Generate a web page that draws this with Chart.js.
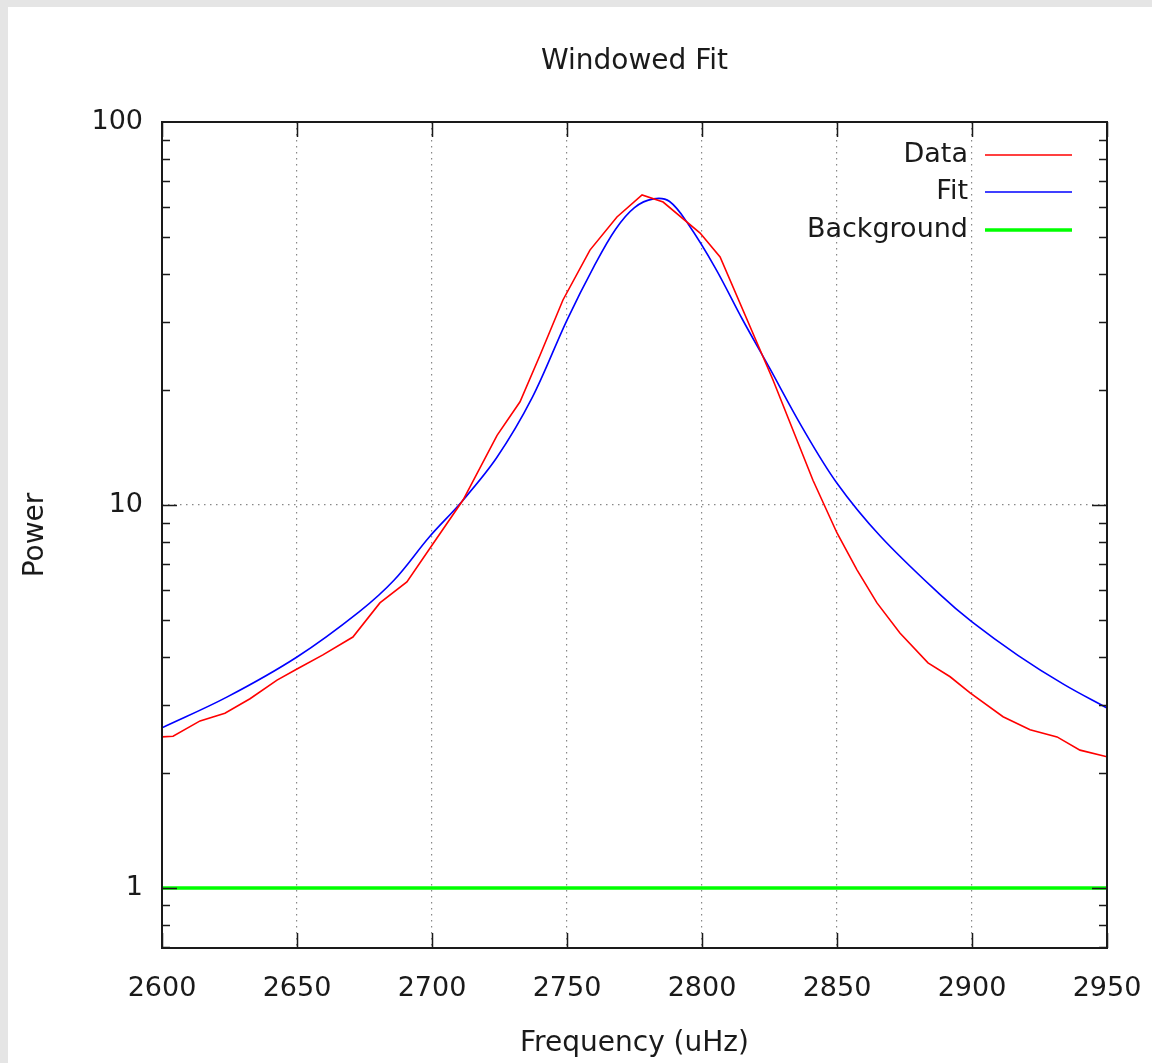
<!DOCTYPE html>
<html>
<head>
<meta charset="utf-8">
<script src="https://cdn.jsdelivr.net/npm/chart.js@4/dist/chart.umd.min.js"></script>
<style>
  html, body { margin: 0; padding: 0; background: #e5e5e5; }
  #panel { position: absolute; left: 8px; top: 7px; width: 1144px; height: 1056px; background: #fff; }
  #chart { position: absolute; left: 0; top: 0; }
</style>
</head>
<body>
<div id="panel"></div>
<canvas id="chart" width="1152" height="1063"></canvas>
<script>
// values
const dataFreq = [2600, 2604.1, 2614.1, 2623.3, 2632.6, 2642.6, 2650, 2659.6, 2670.7, 2680.7, 2690.7, 2699.3, 2711.5, 2724.1, 2732.6, 2740, 2748.5, 2758.5, 2768.5, 2777.8, 2785.6, 2799.3, 2806.7, 2826.3, 2841.1, 2850, 2857.4, 2864.8, 2873.3, 2883.7, 2891.9, 2899.3, 2911.5, 2921.5, 2931.5, 2940, 2950];
const dataPower = [2.48, 2.49, 2.73, 2.86, 3.12, 3.49, 3.73, 4.06, 4.52, 5.55, 6.30, 7.72, 10.3, 15.2, 18.6, 24.6, 34.3, 46.3, 56.5, 64.5, 61.8, 51.3, 44.4, 21.2, 11.6, 8.45, 6.77, 5.55, 4.63, 3.87, 3.56, 3.23, 2.80, 2.59, 2.48, 2.29, 2.20];

const fitFreq = [2600, 2624, 2650, 2673, 2686, 2699, 2711, 2724, 2737, 2750, 2760, 2768, 2775, 2782, 2788, 2795, 2805, 2815, 2825, 2837, 2850, 2866, 2888, 2900, 2917, 2934, 2950];
const fitPower = [2.62, 3.15, 4.01, 5.26, 6.37, 8.25, 10.2, 13.3, 19.0, 30.4, 42.0, 52.5, 59.8, 63.0, 62.0, 54.0, 41.5, 30.5, 22.8, 16.0, 11.4, 8.3, 5.85, 4.95, 4.05, 3.4, 2.95];

const bgFreq = [2600, 2950];
const bgPower = [1, 1];

const xTicks = [2600, 2650, 2700, 2750, 2800, 2850, 2900, 2950];
const yTicks = [1, 10, 100];

const FONT = 'DejaVu Sans';
const TEXT = '#1a1a1a';

function pts(xs, ys) {
  return xs.map((x, i) => ({ x: x, y: ys[i] }));
}

// gnuplot-like frame, ticks, title and key
const framePlugin = {
  id: 'frame',
  afterDatasetsDraw(chart) {
    const ctx = chart.ctx;
    const a = chart.chartArea;
    const xs = chart.scales.x;
    const ys = chart.scales.y;
    ctx.save();
    ctx.strokeStyle = '#1a1a1a';
    ctx.lineWidth = 1.5;
    ctx.beginPath();
    xTicks.forEach(v => {
      const px = Math.round(xs.getPixelForValue(v)) + 0.5;
      ctx.moveTo(px, a.bottom); ctx.lineTo(px, a.bottom - 15);
      ctx.moveTo(px, a.top); ctx.lineTo(px, a.top + 15);
    });
    for (let d = 0.1; d <= 10; d *= 10) {
      for (let m = 1; m <= 9; m++) {
        const v = d * m;
        if (v < ys.min || v > ys.max) continue;
        const len = m === 1 ? 15 : 8;
        const py = Math.round(ys.getPixelForValue(v)) + 0.5;
        ctx.moveTo(a.left, py); ctx.lineTo(a.left + len, py);
        ctx.moveTo(a.right, py); ctx.lineTo(a.right - len, py);
      }
    }
    ctx.stroke();
    ctx.lineWidth = 2;
    ctx.strokeRect(a.left, a.top, a.right - a.left, a.bottom - a.top);

    ctx.fillStyle = TEXT;
    ctx.font = '28px "' + FONT + '"';
    ctx.textAlign = 'center';
    ctx.textBaseline = 'middle';
    ctx.fillText('Windowed Fit', (a.left + a.right) / 2, 62);

    ctx.font = '27px "' + FONT + '"';
    ctx.textAlign = 'right';
    const rows = [155, 192, 230];
    chart.data.datasets.forEach((ds, i) => {
      ctx.fillStyle = TEXT;
      ctx.fillText(ds.label, 968, rows[i]);
      ctx.strokeStyle = ds.borderColor;
      ctx.lineWidth = ds.borderWidth;
      ctx.beginPath();
      ctx.moveTo(985, rows[i]);
      ctx.lineTo(1072, rows[i]);
      ctx.stroke();
    });
    ctx.restore();
  }
};

new Chart(document.getElementById('chart'), {
  type: 'line',
  data: {
    datasets: [
      { label: 'Data', data: pts(dataFreq, dataPower), borderColor: '#ff0000', borderWidth: 1.6, pointRadius: 0, tension: 0 },
      { label: 'Fit', data: pts(fitFreq, fitPower), borderColor: '#0000ff', borderWidth: 1.6, pointRadius: 0, tension: 0.35 },
      { label: 'Background', data: pts(bgFreq, bgPower), borderColor: '#00ff00', borderWidth: 3.5, pointRadius: 0 }
    ]
  },
  options: {
    responsive: false,
    animation: false,
    devicePixelRatio: 1,
    layout: { padding: { top: 122, right: 45, left: 0, bottom: 0 } },
    plugins: { legend: { display: false }, tooltip: { enabled: false } },
    scales: {
      x: {
        type: 'linear',
        min: 2600,
        max: 2950,
        afterBuildTicks: s => { s.ticks = xTicks.map(v => ({ value: v })); },
        afterFit: s => { s.height = 115; s.paddingLeft = 0; s.paddingRight = 0; },
        grid: { color: '#888', lineWidth: 1.2, drawTicks: false },
        border: { display: false, dash: [1.5, 4.5] },
        ticks: { font: { family: FONT, size: 27 }, color: TEXT, padding: 25, maxRotation: 0, callback: v => String(v) },
        title: { display: true, text: 'Frequency (uHz)', font: { family: FONT, size: 28 }, color: TEXT, padding: { top: 0, bottom: 2 } }
      },
      y: {
        type: 'logarithmic',
        min: 0.697,
        max: 100,
        afterBuildTicks: s => { s.ticks = yTicks.map(v => ({ value: v })); },
        afterFit: s => { s.width = 162; s.paddingTop = 0; s.paddingBottom = 0; },
        grid: { color: '#888', lineWidth: 1.2, drawTicks: false },
        border: { display: false, dash: [1.5, 4.5] },
        ticks: { font: { family: FONT, size: 27 }, color: TEXT, padding: 19, callback: v => String(v) },
        title: { display: true, text: 'Power', font: { family: FONT, size: 28 }, color: TEXT, padding: { top: 19, bottom: 0 } }
      }
    }
  },
  plugins: [framePlugin]
});
</script>
</body>
</html>
